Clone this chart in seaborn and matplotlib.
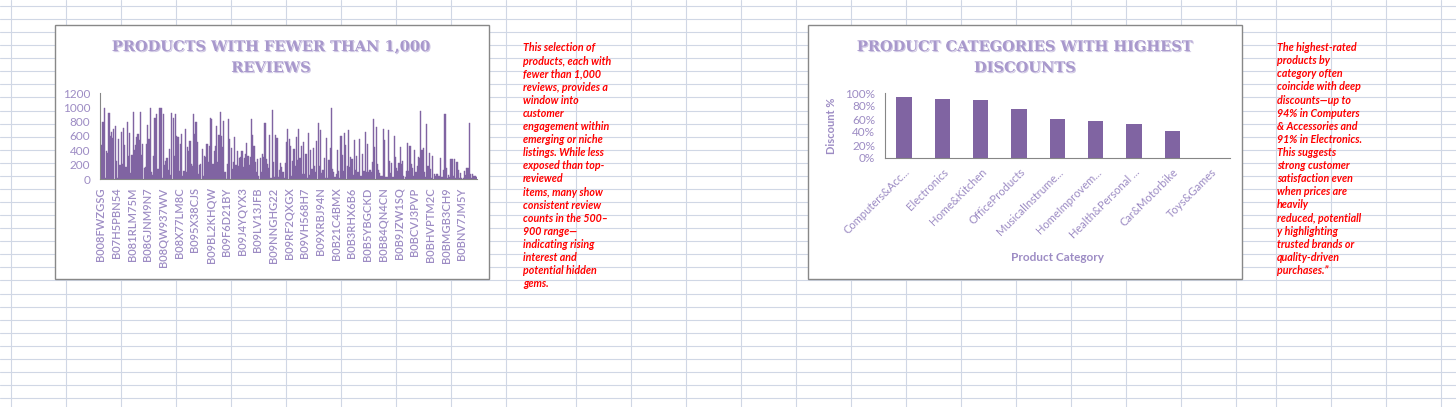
import numpy as np
import pandas as pd
import matplotlib
matplotlib.use("Agg")
import matplotlib.pyplot as plt
import matplotlib.patheffects as pe
from matplotlib.patches import Rectangle
from matplotlib.lines import Line2D
from matplotlib.ticker import PercentFormatter
import seaborn as sns

# ---- data ----
product_labels = ["B008FWZGSG", "B07H5PBN54", "B081RLM75M", "B08GJNM9N7", "B08QW937WV",
                  "B08X77LM8C", "B095X38CJS", "B09BL2KHQW", "B09F6D21BY", "B09J4YQYX3",
                  "B09LV13JFB", "B09NNGHG22", "B09RF2QXGX", "B09VH568H7", "B09XRBJ94N",
                  "B0B21C4BMX", "B0B3RHX6B6", "B0B5YBGCKD", "B0B84QN4CN", "B0B9JZW1SQ",
                  "B0BCVJ3PVP", "B0BHVPTM2C", "B0BMGB3CH9", "B0BNV7JM5Y"]

reviews_a = [363, 474, 790, 990, 20, 390, 363, 920, 605, 660,
             572, 700, 735, 250, 20, 560, 195, 650, 210, 707,
             474, 170, 800, 325, 640, 84, 335, 940, 410, 474,
             585, 628, 550, 940, 335, 488, 150, 163, 488, 753,
             558, 990, 93, 56, 316, 851, 907, 140, 140, 986,
             986, 10, 907, 195, 251, 288, 126, 419, 56, 920,
             846, 326, 907, 605, 581, 112, 488, 628, 47, 112,
             698, 93, 442, 395, 535, 209, 186, 907, 628, 800,
             521, 70, 195, 209, 419, 47, 316, 302, 488, 232,
             456, 846, 837, 209, 395, 465, 735, 232, 614, 930,
             605, 442, 814, 93, 5, 209, 837, 558, 428, 140,
             242, 581, 195, 395, 177, 288, 302, 395, 163, 288,
             349, 502, 316, 195, 302, 837, 614, 465, 232, 102,
             279, 37, 288, 93, 349, 302, 781, 279, 209, 149,
             614, 10, 967, 242, 23, 614, 567, 23, 130, 223,
             163, 93, 10, 223, 521, 698, 558, 465]

reviews_b = [47, 251, 419, 177, 581, 270, 698, 288, 465, 70,
             512, 70, 349, 10, 642, 56, 409, 140, 428, 177, 95,
             535, 781, 177, 688, 84, 130, 288, 10, 567, 10,
             265, 428, 986, 140, 93, 23, 70, 405, 116, 10,
             595, 335, 116, 642, 474, 177, 684, 163, 302, 279, 60,
             544, 130, 316, 93, 558, 47, 47, 349, 116, 660,
             93, 488, 93, 130, 102, 232, 837, 446, 726, 209, 130,
             84, 47, 47, 698, 544, 23, 23, 684, 251, 84,
             223, 23, 605, 307, 149, 116, 223, 442, 209, 251, 40,
             23, 116, 502, 116, 456, 209, 149, 37, 409, 93, 180,
             302, 288, 953, 405, 433, 93, 23, 767, 177, 363,
             140, 10, 316, 70, 37, 70, 70, 37, 288, 23, 30,
             126, 907, 149, 10, 56, 23, 279, 279, 37, 279,
             10, 232, 130, 10, 84, 20, 10, 112, 56, 149, 149,
             781, 70, 10, 70, 47, 37, 23]

categories = ["Computers&Acc...", "Electronics", "Home&Kitchen", "OfficeProducts",
              "MusicalInstrume...", "HomeImprovem...", "Health&Personal ...",
              "Car&Motorbike", "Toys&Games"]
discounts = [0.94, 0.91, 0.90, 0.75, 0.60, 0.57, 0.53, 0.42, 0.0]

note_left = ["This selection of", "products, each with", "fewer than 1,000",
             "reviews, provides a", "window into", "customer", "engagement within",
             "emerging or niche", "listings. While less", "exposed than top-",
             "reviewed", "items, many show", "consistent review",
             "counts in the 500\u2013", "900 range\u2014", "indicating rising",
             "interest and", "potential hidden", "gems."]
note_right = ["The highest-rated", "products by", "category often",
              "coincide with deep", "discounts\u2014up to", "94% in Computers",
              "& Accessories and", "91% in Electronics.", "This suggests",
              "strong customer", "satisfaction even", "when prices are",
              "heavily", "reduced, potentiall", "y highlighting",
              "trusted brands or", "quality-driven", "purchases.\u201d"]

reviews = reviews_a + reviews_b
df1 = pd.DataFrame({"pos": range(len(reviews)), "reviews": reviews})
df2 = pd.DataFrame({"category": categories, "discount": discounts})

# ---- style ----
sns.set_style("white")
plt.rcParams["font.family"] = ["Lato", "DejaVu Sans"]
PURPLE = "#8064A2"
LAV = "#9D8CC4"
AXGREY = "#868686"
GRID = "#D0D7E5"

W, H = 1456, 407
fig = plt.figure(figsize=(W / 100, H / 100), dpi=100)
fig.patch.set_facecolor("white")


def box(x0, y0, x1, y1):
    # pixel box (top-left origin) -> figure fraction rect
    return [x0 / W, 1 - y1 / H, (x1 - x0) / W, (y1 - y0) / H]


# spreadsheet grid
for y in np.arange(6, H, 13.07):
    fig.add_artist(Line2D([0, 1], [1 - y / H] * 2, color=GRID, lw=0.8, zorder=-3))
for x in list(np.arange(11, 560, 55)) + [576, 631, 686, 741, 796, 851, 906, 961, 1016,
                                          1071, 1126, 1181, 1236, 1276, 1331, 1386, 1441]:
    fig.add_artist(Line2D([x / W] * 2, [0, 1], color=GRID, lw=0.8, zorder=-3))

# chart frames
for x0, x1 in [(55, 489), (808, 1242)]:
    fig.add_artist(Rectangle((x0 / W, 1 - 279 / H), (x1 - x0) / W, 254 / H,
                             facecolor="white", edgecolor="#888888", lw=1.0, zorder=-2))

title_fx = [pe.withSimplePatchShadow(offset=(0.8, -0.8), shadow_rgbFace="#CFC7E3", alpha=1)]

# ---- chart 1: products with fewer than 1,000 reviews ----
ax1 = fig.add_axes(box(100, 93, 477, 179))
sns.barplot(data=df1, x="pos", y="reviews", color=PURPLE, saturation=1,
            width=0.95, linewidth=0.3, edgecolor=PURPLE, ax=ax1)
ax1.set_xlim(-0.5, len(reviews) - 0.5)
ax1.set_ylim(0, 1200)
ax1.set_yticks(range(0, 1201, 200))
ax1.set_xticks(range(0, 13 * len(product_labels), 13))
ax1.set_xticklabels(product_labels, rotation=90, fontsize=8, color=LAV, fontweight="semibold")
ax1.set_xticks(np.arange(-0.5, len(reviews), 1), minor=True)
ax1.tick_params(axis="x", which="major", length=0, pad=6)
ax1.tick_params(axis="x", which="minor", length=3, color="#A0A0A0", width=0.5)
ax1.tick_params(axis="y", length=3, color=AXGREY, labelsize=8.5, labelcolor=LAV, pad=4)
ax1.set_xlabel("")
ax1.set_ylabel("")
for s in ["top", "right"]:
    ax1.spines[s].set_visible(False)
for s in ["left", "bottom"]:
    ax1.spines[s].set_color(AXGREY)
    ax1.spines[s].set_linewidth(0.8)
ax1.patch.set_alpha(0)
for i, t in enumerate(["PRODUCTS WITH FEWER THAN 1,000", "REVIEWS"]):
    fig.text(271 / W, 1 - (47 + 21 * i) / H, t, ha="center", va="center",
             fontsize=10.5, fontweight="bold", family="DejaVu Serif", color="#A898CC",
             path_effects=title_fx)

# ---- chart 2: categories with highest discounts ----
ax2 = fig.add_axes(box(885, 93, 1230, 158))
sns.barplot(data=df2, x="category", y="discount", color=PURPLE, saturation=1,
            width=0.4, linewidth=0, ax=ax2)
ax2.set_xlim(-0.5, len(categories) - 0.5)
ax2.set_ylim(0, 1)
ax2.set_yticks(np.arange(0, 1.01, 0.2))
ax2.yaxis.set_major_formatter(PercentFormatter(xmax=1, decimals=0))
ax2.set_xticks(range(len(categories)))
ax2.set_xticklabels(categories, rotation=45, ha="right", rotation_mode="anchor",
                    fontsize=8, color=LAV)
ax2.set_xticks(np.arange(-0.5, len(categories), 1), minor=True)
ax2.tick_params(axis="x", which="major", length=0, pad=6)
ax2.tick_params(axis="x", which="minor", length=4, color=AXGREY, width=0.8)
ax2.tick_params(axis="y", length=3, color=AXGREY, labelsize=8.5, labelcolor=LAV, pad=4)
ax2.set_xlabel("Product Category", fontsize=8.5, color=LAV, fontweight="bold", labelpad=8)
ax2.set_ylabel("Discount %", fontsize=8, color=LAV, fontweight="bold", labelpad=6)
for s in ["top", "right"]:
    ax2.spines[s].set_visible(False)
for s in ["left", "bottom"]:
    ax2.spines[s].set_color(AXGREY)
    ax2.spines[s].set_linewidth(0.8)
ax2.patch.set_alpha(0)
for i, t in enumerate(["PRODUCT CATEGORIES WITH HIGHEST", "DISCOUNTS"]):
    fig.text(1025 / W, 1 - (47 + 21 * i) / H, t, ha="center", va="center",
             fontsize=10.5, fontweight="bold", family="DejaVu Serif", color="#A898CC",
             path_effects=title_fx)

# ---- side notes ----
for x0, y0, lines in [(523, 48, note_left), (1277, 47.7, note_right)]:
    for i, line in enumerate(lines):
        fig.text(x0 / W, 1 - (y0 + 13.1 * i) / H, line, ha="left", va="center",
                 fontsize=7.7, fontweight="bold", style="italic", color="#FF0000")

fig.savefig("out.png", dpi=100, facecolor="white")
